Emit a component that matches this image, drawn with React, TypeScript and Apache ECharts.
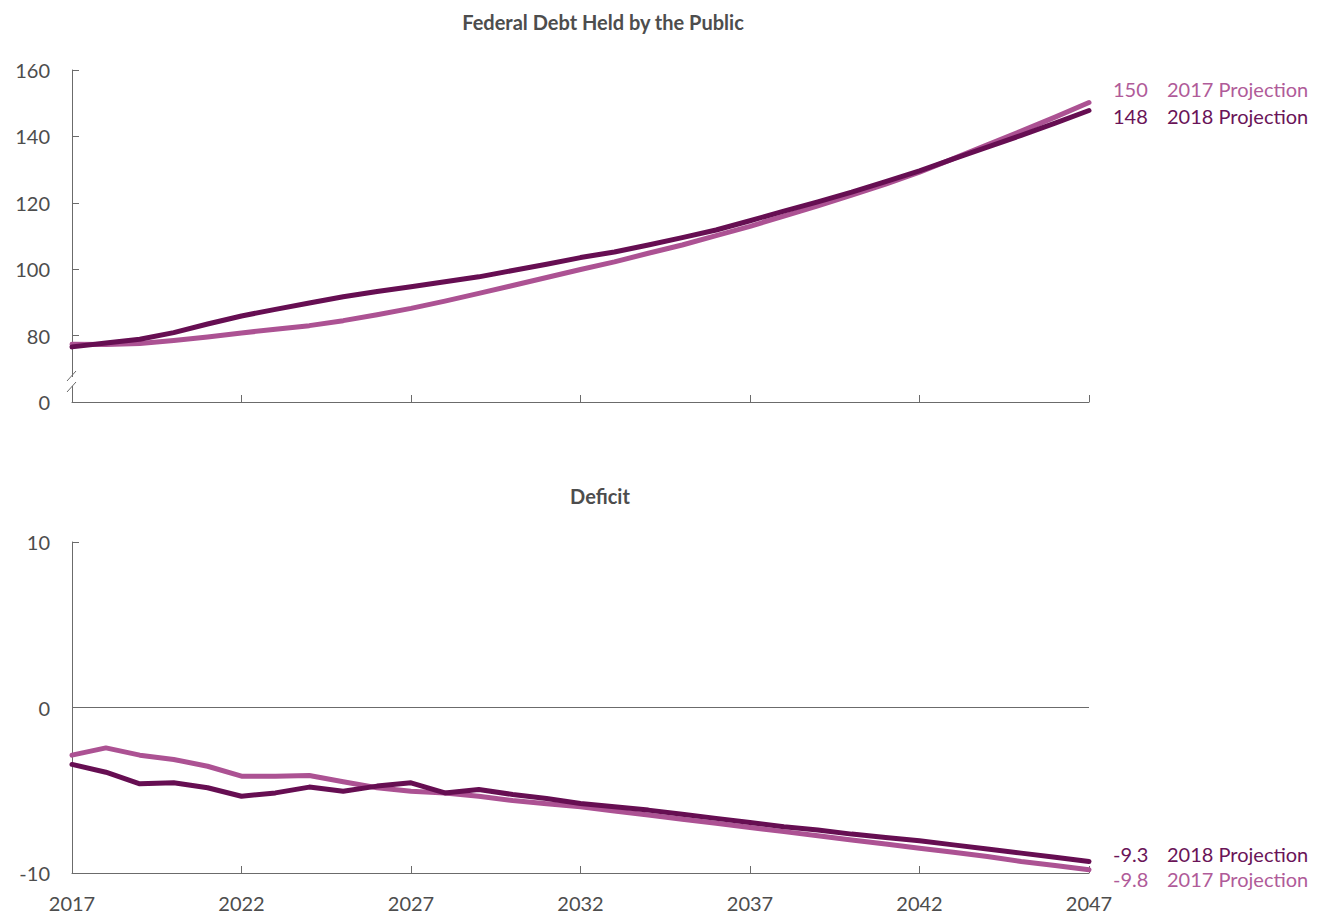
import React, { useEffect, useRef } from "react";
import * as echarts from "echarts";

const years: string[] = [];
for (let y = 2017; y <= 2047; y++) years.push(String(y));

// Federal debt held by the public (% of GDP)
const debt2017: number[] = [
  77.4, 77.3, 77.6, 78.5, 79.6, 80.8, 81.9, 83.0, 84.5, 86.3,
  88.2, 90.4, 92.7, 95.1, 97.5, 99.9, 102.2, 104.8, 107.3, 110.1,
  112.9, 116.0, 119.1, 122.3, 125.6, 129.2, 133.3, 137.5, 141.6, 145.8,
  150.2,
];
const debt2018: number[] = [
  76.6, 77.8, 78.9, 80.9, 83.5, 85.9, 87.9, 89.8, 91.7, 93.3,
  94.7, 96.2, 97.7, 99.6, 101.5, 103.5, 105.2, 107.3, 109.5, 111.8,
  114.6, 117.5, 120.3, 123.2, 126.4, 129.6, 133.2, 136.8, 140.3, 144.0,
  147.8,
];
// Deficit (% of GDP)
const deficit2017: number[] = [
  -2.88, -2.44, -2.88, -3.14, -3.55, -4.15, -4.15, -4.11, -4.49, -4.85,
  -5.06, -5.16, -5.36, -5.62, -5.82, -6.0, -6.25, -6.5, -6.75, -7.0,
  -7.25, -7.5, -7.75, -8.0, -8.25, -8.5, -8.75, -9.0, -9.3, -9.55,
  -9.8,
];
const deficit2018: number[] = [
  -3.44, -3.91, -4.61, -4.55, -4.85, -5.36, -5.16, -4.81, -5.06, -4.75,
  -4.55, -5.16, -4.95, -5.26, -5.5, -5.8, -6.0, -6.2, -6.45, -6.7,
  -6.95, -7.2, -7.4, -7.65, -7.85, -8.05, -8.3, -8.55, -8.8, -9.05,
  -9.3,
];
const debtTicks = { min: 60, max: 160, interval: 20 };
const deficitTicks = { min: -10, max: 10, interval: 10 };

const LIGHT = "#ac5293";
const DARK = "#660e52";
const LIGHT_TXT = "#b05b99";
const DARK_TXT = "#6a1458";
const AXIS = "#6b6b6b";
const TXT = "#4d4d4d";
const FONT = "Lato";

export default function App() {
  const ref = useRef<HTMLDivElement>(null);
  useEffect(() => {
    document.body.style.margin = "0";
    const chart = echarts.init(ref.current!, null, { renderer: "svg" });

    const endLabel = (name: string, color: string, digits: number, dy: number) => ({
      show: true,
      distance: 24,
      offset: [0, dy],
      formatter: (p: any) => {
        const v = Array.isArray(p.value) ? p.value[1] : p.value;
        return `{v|${Number(v).toFixed(digits)}}{n|${name}}`;
      },
      rich: {
        v: { width: 54, fontSize: 20, color, fontFamily: FONT },
        n: { fontSize: 20, color, fontFamily: FONT },
      },
    });

    const lineSeries = (
      data: number[], name: string, color: string, txt: string,
      axisIdx: number, digits: number, dy: number, extra: any = {}
    ) => ({
      type: "line",
      name,
      data,
      xAxisIndex: axisIdx,
      yAxisIndex: axisIdx,
      symbol: "none",
      lineStyle: { color, width: 5, cap: "round", join: "round" },
      itemStyle: { color },
      endLabel: endLabel(name, txt, digits, dy),
      emphasis: { disabled: true },
      ...extra,
    });

    const xAxisBase = (gridIndex: number, showLabel: boolean) => ({
      type: "category",
      gridIndex,
      data: years,
      boundaryGap: false,
      axisLine: { show: true, onZero: false, lineStyle: { color: AXIS, width: 1 } },
      axisTick: { show: true, inside: true, length: 7, interval: 4, lineStyle: { color: AXIS } },
      axisLabel: {
        show: showLabel,
        interval: 4,
        fontSize: 20,
        color: TXT,
        fontFamily: FONT,
        margin: 20,
      },
      splitLine: { show: false },
    });

    const yAxisBase = (gridIndex: number, t: any, fmt: (v: number) => string) => ({
      type: "value",
      gridIndex,
      min: t.min,
      max: t.max,
      interval: t.interval,
      axisLine: { show: true, lineStyle: { color: AXIS, width: 1 } },
      axisTick: { show: true, inside: true, length: 7, lineStyle: { color: AXIS } },
      axisLabel: { fontSize: 20, color: TXT, fontFamily: FONT, margin: 22, formatter: fmt },
      splitLine: { show: false },
    });

    chart.setOption({
      animation: false,
      textStyle: { fontFamily: FONT },
      title: [
        {
          text: "Federal Debt Held by the Public",
          left: 598,
          top: 7,
          textAlign: "center",
          textStyle: { fontSize: 20, fontWeight: "bold", color: TXT, fontFamily: FONT },
        },
        {
          text: "Deficit",
          left: 595,
          top: 481,
          textAlign: "center",
          textStyle: { fontSize: 20, fontWeight: "bold", color: TXT, fontFamily: FONT },
        },
      ],
      grid: [
        { left: 72, top: 70, width: 1017, height: 332 },
        { left: 72, top: 542, width: 1017, height: 331 },
      ],
      xAxis: [xAxisBase(0, false), xAxisBase(1, true)],
      yAxis: [
        yAxisBase(0, debtTicks, (v: number) => (v === debtTicks.min ? "0" : String(v))),
        yAxisBase(1, deficitTicks, (v: number) => String(v)),
      ],
      series: [
        lineSeries(debt2017, "2017 Projection", LIGHT, LIGHT_TXT, 0, 0, -14),
        lineSeries(debt2018, "2018 Projection", DARK, DARK_TXT, 0, 0, 5),
        lineSeries(deficit2017, "2017 Projection", LIGHT, LIGHT_TXT, 1, 1, 9, {
          markLine: {
            silent: true,
            symbol: "none",
            label: { show: false },
            lineStyle: { color: AXIS, width: 1, type: "solid" },
            data: [{ yAxis: 0 }],
          },
        }),
        lineSeries(deficit2018, "2018 Projection", DARK, DARK_TXT, 1, 1, -7),
      ],
      graphic: [
        { type: "rect", shape: { x: 67, y: 377, width: 8, height: 9 }, style: { fill: "#fff" }, z: 100 },
        { type: "line", shape: { x1: 67, y1: 381, x2: 76, y2: 371 }, style: { stroke: AXIS, lineWidth: 1 }, z: 101 },
        { type: "line", shape: { x1: 67, y1: 392, x2: 76, y2: 382 }, style: { stroke: AXIS, lineWidth: 1 }, z: 101 },
      ],
    });
    return () => chart.dispose();
  }, []);
  return <div ref={ref} style={{ width: 1320, height: 915 }} />;
}
